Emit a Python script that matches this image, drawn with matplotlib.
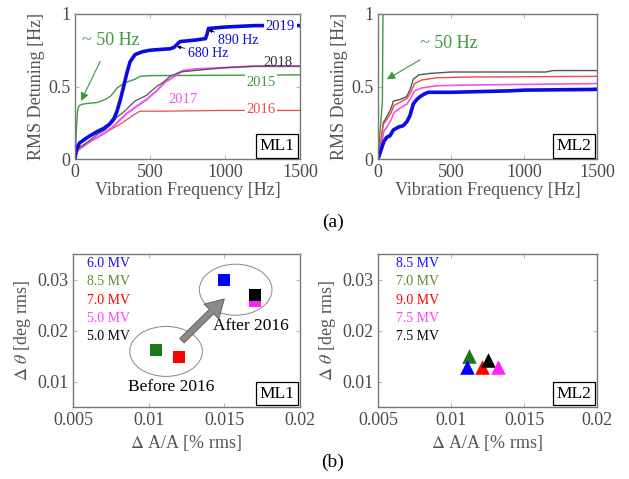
import numpy as np
import matplotlib.pyplot as plt
from matplotlib.patches import Ellipse

plt.rcParams['font.family'] = ['Liberation Serif', 'DejaVu Serif']
plt.rcParams['mathtext.fontset'] = 'stix'

# ---- (a) ML1 cumulative RMS detuning
f2019 = [0, 10, 30, 70, 100, 150, 190, 230, 260, 280, 300, 322, 345, 367, 400, 450, 500, 560, 633, 660, 680, 700, 800, 870, 880, 890, 1000, 1200, 1500]
v2019 = [0, 0.07, 0.11, 0.14, 0.16, 0.19, 0.21, 0.24, 0.28, 0.33, 0.40, 0.49, 0.59, 0.67, 0.72, 0.74, 0.75, 0.755, 0.76, 0.77, 0.79, 0.81, 0.82, 0.83, 0.86, 0.90, 0.91, 0.92, 0.92]
f2015 = [0, 5, 10, 15, 20, 30, 60, 100, 150, 200, 233, 260, 280, 310, 344, 400, 433, 500, 1500]
v2015 = [0, 0.1, 0.22, 0.3, 0.35, 0.37, 0.38, 0.385, 0.39, 0.41, 0.43, 0.46, 0.49, 0.51, 0.53, 0.55, 0.57, 0.575, 0.58]
f2018 = [0, 10, 30, 60, 100, 150, 200, 250, 280, 320, 360, 400, 440, 478, 510, 544, 590, 633, 700, 800, 900, 1000, 1200, 1500]
v2018 = [0, 0.05, 0.08, 0.10, 0.13, 0.17, 0.2, 0.25, 0.29, 0.32, 0.36, 0.40, 0.42, 0.44, 0.47, 0.50, 0.53, 0.57, 0.60, 0.61, 0.62, 0.63, 0.64, 0.64]
f2017 = [0, 10, 30, 60, 100, 150, 200, 250, 300, 340, 380, 420, 478, 510, 544, 600, 678, 720, 800, 1000, 1200, 1500]
v2017 = [0, 0.04, 0.07, 0.09, 0.12, 0.15, 0.18, 0.22, 0.27, 0.31, 0.34, 0.37, 0.41, 0.44, 0.47, 0.53, 0.58, 0.61, 0.62, 0.63, 0.64, 0.64]
f2016 = [0, 10, 30, 60, 100, 150, 200, 250, 300, 344, 400, 433, 600, 1000, 1500]
v2016 = [0, 0.05, 0.08, 0.10, 0.12, 0.15, 0.18, 0.21, 0.24, 0.27, 0.31, 0.33, 0.33, 0.335, 0.335]

# ---- (a) ML2
m2_blue_f = [0, 20, 40, 60, 82, 105, 140, 173, 200, 219, 242, 265, 288, 320, 345, 500, 900, 1000, 1500]
m2_blue_v = [0, 0.06, 0.12, 0.15, 0.16, 0.2, 0.22, 0.23, 0.26, 0.3, 0.38, 0.41, 0.43, 0.45, 0.46, 0.46, 0.47, 0.475, 0.48]
m2_black_f = [0, 20, 36, 60, 90, 105, 150, 196, 220, 242, 280, 356, 500, 1150, 1200, 1500]
m2_black_v = [0, 0.12, 0.25, 0.29, 0.35, 0.40, 0.41, 0.43, 0.48, 0.55, 0.58, 0.59, 0.60, 0.60, 0.61, 0.61]
m2_red_f = [0, 20, 36, 60, 90, 110, 150, 200, 225, 250, 300, 400, 600, 1500]
m2_red_v = [0, 0.12, 0.24, 0.27, 0.32, 0.37, 0.39, 0.42, 0.46, 0.52, 0.545, 0.56, 0.565, 0.57]
m2_mag_f = [0, 20, 40, 60, 90, 110, 150, 200, 230, 250, 300, 400, 600, 1500]
m2_mag_v = [0, 0.08, 0.19, 0.22, 0.27, 0.32, 0.35, 0.38, 0.43, 0.47, 0.49, 0.505, 0.51, 0.52]
m2_green_f = [0, 30, 34]
m2_green_v = [0, 0.4, 1.0]

# ---- (b) jitter scatter
ml1_labels = ['6.0 MV', '8.5 MV', '7.0 MV', '5.0 MV', '5.0 MV']
ml1_dA = [0.0150, 0.0105, 0.0120, 0.0170, 0.0170]
ml1_dth = [0.0300, 0.0161, 0.0149, 0.0258, 0.0269]
ml2_labels = ['8.5 MV', '7.0 MV', '9.0 MV', '7.5 MV', '7.5 MV']
ml2_dA = [0.0111, 0.0112, 0.0121, 0.0132, 0.0125]
ml2_dth = [0.0129, 0.0150, 0.0129, 0.0129, 0.0143]

BLUE = '#0a0ae6'
GREEN = '#3c9c3c'
BLACK = '#555555'
MAG = '#ee55ee'
RED = '#f04848'
OLIVE = '#5e8a2a'
leg_cols = ['#1010ff', OLIVE, '#ff0000', '#ff40ff', '#000000']
sq_cols = ['#0000ff', '#1a7a1a', '#ff0000', '#ff20ff', '#000000']

fig = plt.figure(figsize=(6.29, 4.79), dpi=100)
W, H = 629, 479


def px_axes(x0, y0, x1, y1):
    return fig.add_axes([x0 / W, 1 - y1 / H, (x1 - x0) / W, (y1 - y0) / H])


def style(ax):
    for s in ax.spines.values():
        s.set_color('#777777')
        s.set_linewidth(1.0)
    ax.tick_params(direction='in', length=3, width=0.6, color='#aaaaaa',
                   labelsize=13, labelcolor='#4a4a4a', top=True, right=True)


def boxlabel(ax, txt):
    ax.text(0.975, 0.035, txt, transform=ax.transAxes, ha='right', va='bottom',
            fontsize=12.5, color='black',
            bbox=dict(boxstyle='square,pad=0.22', fc='white', ec='black', lw=0.9))


# top-left
ax1 = px_axes(75, 14, 300, 159)
ax1.plot(f2015, v2015, color=GREEN, lw=1.0)
ax1.plot(f2016, v2016, color=RED, lw=0.9)
ax1.plot(f2017, v2017, color=MAG, lw=1.5)
ax1.plot(f2018, v2018, color=BLACK, lw=0.9)
ax1.plot(f2019, v2019, color=BLUE, lw=2.6)
lbl = dict(fontsize=10.5, ha='center', va='center',
           bbox=dict(fc='white', ec='none', pad=1.0))
ax1.text(1370, 0.915, '2019', color=BLUE, **lbl)
ax1.text(1355, 0.665, '2018', color='#333333', fontsize=10.5, ha='center', va='center')
ax1.text(1240, 0.53, '2015', color=GREEN, **lbl)
ax1.text(1240, 0.338, '2016', color=RED, **lbl)
ax1.text(720, 0.41, '2017', color=MAG, fontsize=10.5, ha='center', va='center')
ax1.annotate('890 Hz', xy=(890, 0.89), xytext=(950, 0.82), color=BLUE, fontsize=10,
             ha='left', va='center',
             arrowprops=dict(arrowstyle='-|>', color='black', lw=0.6, mutation_scale=5,
                             shrinkA=0, shrinkB=0))
ax1.annotate('680 Hz', xy=(680, 0.775), xytext=(750, 0.73), color=BLUE, fontsize=10,
             ha='left', va='center',
             arrowprops=dict(arrowstyle='-|>', color='black', lw=0.6, mutation_scale=5,
                             shrinkA=0, shrinkB=0))
ax1.annotate('~ 50 Hz', xy=(40, 0.4), xytext=(45, 0.82), color=GREEN, fontsize=13,
             ha='left', va='center',
             arrowprops=dict(arrowstyle='-|>', color=GREEN, lw=0.8, mutation_scale=12,
                             shrinkA=8, shrinkB=0))
ax1.set_xlim(0, 1500)
ax1.set_ylim(0, 1)
ax1.set_xticks([0, 500, 1000, 1500])
ax1.set_yticks([0, 0.5, 1])
ax1.set_yticklabels(['0', '0.5', '1'])
ax1.set_xlabel('Vibration Frequency [Hz]', fontsize=13, color='#555555', labelpad=1)
ax1.set_ylabel('RMS Detuning [Hz]', fontsize=13, color='#555555', labelpad=2)
style(ax1)
boxlabel(ax1, 'ML1')

# top-right
ax2 = px_axes(378, 14, 597, 159)
ax2.plot(m2_green_f, m2_green_v, color=GREEN, lw=1.0)
ax2.plot(m2_black_f, m2_black_v, color=BLACK, lw=1.0)
ax2.plot(m2_red_f, m2_red_v, color=RED, lw=1.0)
ax2.plot(m2_mag_f, m2_mag_v, color=MAG, lw=1.2)
ax2.plot(m2_blue_f, m2_blue_v, color=BLUE, lw=2.6)
ax2.annotate('~ 50 Hz', xy=(60, 0.55), xytext=(290, 0.80), color=GREEN, fontsize=13,
             ha='left', va='center',
             arrowprops=dict(arrowstyle='-|>', color=GREEN, lw=0.8, mutation_scale=12,
                             shrinkA=8, shrinkB=0))
ax2.set_xlim(0, 1500)
ax2.set_ylim(0, 1)
ax2.set_xticks([0, 500, 1000, 1500])
ax2.set_yticks([0, 0.5, 1])
ax2.set_yticklabels(['0', '0.5', '1'])
ax2.set_xlabel('Vibration Frequency [Hz]', fontsize=13, color='#555555', labelpad=1)
ax2.set_ylabel('RMS Detuning [Hz]', fontsize=13, color='#555555', labelpad=2)
style(ax2)
boxlabel(ax2, 'ML2')

# bottom-left
ax3 = px_axes(73, 254, 300, 407)
ax3.add_patch(Ellipse((0.01575, 0.0280), 0.0048, 0.0100, fill=False, ec='#888888', lw=0.7))
ax3.add_patch(Ellipse((0.01115, 0.0159), 0.0048, 0.0098, fill=False, ec='#888888', lw=0.7))
for x, y, c in zip(ml1_dA, ml1_dth, sq_cols):
    ax3.scatter([x], [y], marker='s', s=72, color=c, zorder=3, linewidths=0)
ax3.annotate('', xy=(0.0150, 0.0262), xytext=(0.0122, 0.0180),
             arrowprops=dict(arrowstyle='simple,head_length=1.3,head_width=1.5,tail_width=0.45',
                             fc='#8a8a8a', ec='#555555', lw=0.6, shrinkA=0, shrinkB=0))
ax3.plot([0.01222, 0.0139], [0.0181, 0.0229], color='white', lw=0.8)
ax3.text(0.01676, 0.0208, 'After 2016', fontsize=12.5, ha='center', va='center')
ax3.text(0.01152, 0.0089, 'Before 2016', fontsize=12.5, ha='center', va='center')
for i, (t, c) in enumerate(zip(ml1_labels, leg_cols)):
    ax3.text(0.06, 0.935 - i * 0.118, t, color=c, fontsize=10, transform=ax3.transAxes,
             ha='left', va='center')
ax3.set_xlim(0.005, 0.02)
ax3.set_ylim(0.005, 0.035)
ax3.set_xticks([0.005, 0.01, 0.015, 0.02])
ax3.set_xticklabels(['0.005', '0.01', '0.015', '0.02'])
ax3.set_yticks([0.01, 0.02, 0.03])
ax3.set_yticklabels(['0.01', '0.02', '0.03'])
ax3.set_xlabel(r'$\Delta$ A/A [% rms]', fontsize=13, color='#555555', labelpad=3)
ax3.set_ylabel(r'$\Delta$ $\theta$ [deg rms]', fontsize=13, color='#555555', labelpad=3)
style(ax3)
boxlabel(ax3, 'ML1')

# bottom-right
ax4 = px_axes(378, 254, 597, 407)
tri_cols = ['#0000ff', '#1a7a1a', '#ff0000', '#ff20ff', '#000000']
order = [1, 0, 2, 4, 3]
for i in order:
    ax4.scatter([ml2_dA[i]], [ml2_dth[i]], marker='^', s=110, color=tri_cols[i],
                zorder=3, linewidths=0)
for i, (t, c) in enumerate(zip(ml2_labels, leg_cols)):
    ax4.text(0.08, 0.935 - i * 0.118, t, color=c, fontsize=10, transform=ax4.transAxes,
             ha='left', va='center')
ax4.set_xlim(0.005, 0.02)
ax4.set_ylim(0.005, 0.035)
ax4.set_xticks([0.005, 0.01, 0.015, 0.02])
ax4.set_xticklabels(['0.005', '0.01', '0.015', '0.02'])
ax4.set_yticks([0.01, 0.02, 0.03])
ax4.set_yticklabels(['0.01', '0.02', '0.03'])
ax4.set_xlabel(r'$\Delta$ A/A [% rms]', fontsize=13, color='#555555', labelpad=3)
ax4.set_ylabel(r'$\Delta$ $\theta$ [deg rms]', fontsize=13, color='#555555', labelpad=3)
style(ax4)
boxlabel(ax4, 'ML2')

fig.text(333 / W, 1 - 222 / H, '(a)', fontsize=14, ha='center', va='center')
fig.text(333 / W, 1 - 462 / H, '(b)', fontsize=14, ha='center', va='center')

fig.savefig('out.png', dpi=100)
